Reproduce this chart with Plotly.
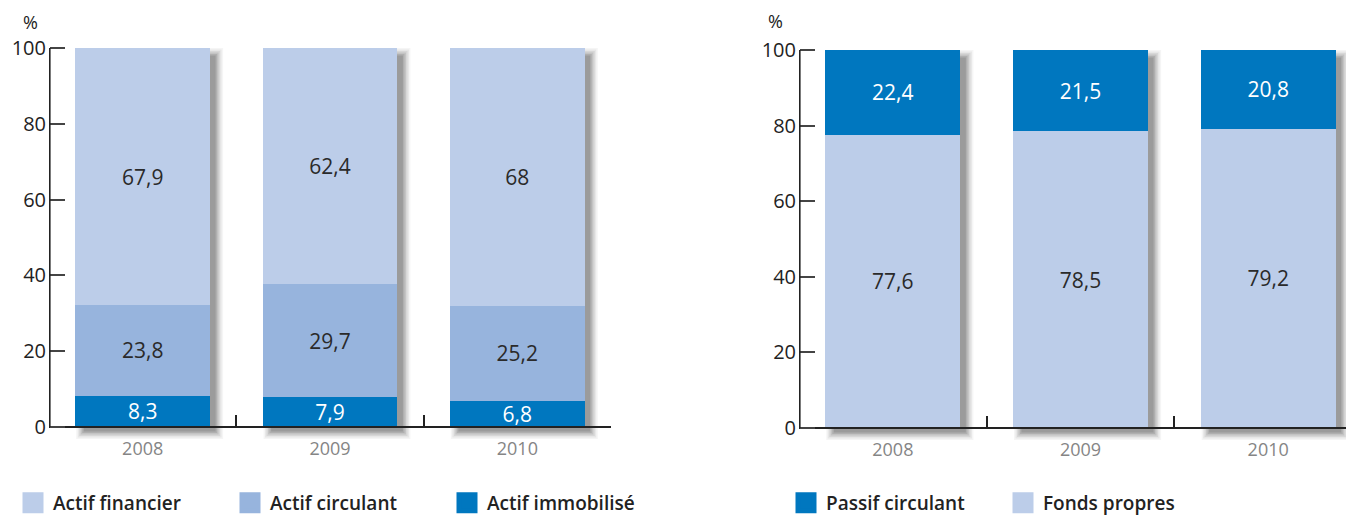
import plotly.graph_objects as go

# ---------------- data ----------------
years = ["2008", "2009", "2010"]
actif_immobilise = [8.3, 7.9, 6.8]
actif_circulant = [23.8, 29.7, 25.2]
actif_financier = [67.9, 62.4, 68]
passif_circulant = [22.4, 21.5, 20.8]
fonds_propres = [77.6, 78.5, 79.2]
y_ticks = [0, 20, 40, 60, 80, 100]

# ---------------- style ----------------
SCREEN_W, SCREEN_H = 1354, 516
OFF = 8                      # default page margin around the plot div
W, H = SCREEN_W - OFF, SCREEN_H - OFF
FONT = "Open Sans"
C_LIGHT = "#BCCDE9"
C_MID = "#97B4DD"
C_DARK = "#0077BF"
BAR_W = 0.72
Y_MIN, Y_MAX = -3.5, 101.5


def fx(sx):
    return (sx - OFF) / W


def fy(sy):
    return 1 - (sy - OFF) / H


# screen-pixel anchors of the two panels (layout only)
LEFT = dict(x0=49, x1=611, y0px=427, y100px=48, xr=[-0.5, 2.5])
RIGHT = dict(x0=799, x1=SCREEN_W, y0px=428, y100px=50, xr=[-0.5, 2.5 - 8 / 187.0])


def ydomain(p):
    ppu = (p["y0px"] - p["y100px"]) / 100.0
    bottom = p["y0px"] - Y_MIN * ppu
    top = p["y100px"] - (Y_MAX - 100) * ppu
    return [fy(bottom), fy(top)], ppu


fig = go.Figure()


def add_bar(vals, color, xa, ya, textcolor):
    fig.add_trace(go.Bar(
        x=years, y=vals, width=BAR_W, xaxis=xa, yaxis=ya,
        marker=dict(color=color, line=dict(width=0)),
        texttemplate="%{y}", textposition="inside", insidetextanchor="middle",
        textangle=0, constraintext="none",
        textfont=dict(family=FONT, size=21, color=textcolor),
        showlegend=False, hoverinfo="skip"))


def add_legend(name, color, xa, ya, legend):
    fig.add_trace(go.Scatter(
        x=[None], y=[None], mode="markers", name=name, xaxis=xa, yaxis=ya,
        legend=legend, showlegend=True, hoverinfo="skip",
        marker=dict(symbol="square", size=16, color=color,
                    line=dict(color=color, width=5))))


def add_shadows(totals, xa, ya, p, ppu):
    ppx = (p["x1"] - p["x0"]) / (p["xr"][1] - p["xr"][0])
    dx, dy = 7, 6
    layers = [(6, 0.05), (4.5, 0.07), (3, 0.09), (1.5, 0.12), (0, 0.14), (-1.5, 0.16)]
    for i, t in enumerate(totals):
        for e, op in layers:
            fig.add_shape(
                type="rect", xref=xa, yref=ya, layer="below",
                x0=i - BAR_W / 2 + (dx - e) / ppx, x1=i + BAR_W / 2 + (dx + e) / ppx,
                y0=(-dy - e) / ppu, y1=t + (-dy + e) / ppu,
                fillcolor="#3a3a3a", opacity=op, line=dict(width=0))
    # y axis line from 0 to 100
    fig.add_shape(type="line", xref=xa, yref=ya, layer="above",
                  x0=p["xr"][0] + 0.8 / ppx, x1=p["xr"][0] + 0.8 / ppx,
                  y0=0, y1=100, line=dict(color="#222", width=1.6))


# left panel
yd1, ppu1 = ydomain(LEFT)
add_bar(actif_immobilise, C_DARK, "x", "y", "white")
add_bar(actif_circulant, C_MID, "x", "y", "#2a2a2a")
add_bar(actif_financier, C_LIGHT, "x", "y", "#2a2a2a")
add_legend("Actif financier", C_LIGHT, "x", "y", "legend")
add_legend("Actif circulant", C_MID, "x", "y", "legend")
add_legend("Actif immobilisé", C_DARK, "x", "y", "legend")
totals1 = [a + b + c for a, b, c in zip(actif_immobilise, actif_circulant, actif_financier)]
add_shadows(totals1, "x", "y", LEFT, ppu1)

# right panel
yd2, ppu2 = ydomain(RIGHT)
add_bar(fonds_propres, C_LIGHT, "x2", "y2", "#2a2a2a")
add_bar(passif_circulant, C_DARK, "x2", "y2", "white")
add_legend("Passif circulant", C_DARK, "x2", "y2", "legend2")
add_legend("Fonds propres", C_LIGHT, "x2", "y2", "legend2")
totals2 = [a + b for a, b in zip(fonds_propres, passif_circulant)]
add_shadows(totals2, "x2", "y2", RIGHT, ppu2)


def xaxis(p):
    return dict(
        type="category", domain=[fx(p["x0"]), min(1.0, fx(p["x1"]))], range=p["xr"],
        anchor="free", position=fy(p["y0px"]),
        showline=True, linecolor="#222", linewidth=2,
        ticks="inside", tickson="boundaries", ticklen=11, tickwidth=2, tickcolor="#222",
        tickfont=dict(family=FONT, size=18, color="#858585"),
        ticklabelstandoff=5, showgrid=False, zeroline=False, fixedrange=True)


def yaxis(p, dom):
    return dict(
        domain=dom, range=[Y_MIN, Y_MAX], anchor="free", position=fx(p["x0"]),
        tickvals=y_ticks, ticks="inside", ticklen=15, tickwidth=1.5, tickcolor="#444",
        tickfont=dict(family=FONT, size=20, color="#222"), ticklabelstandoff=3,
        showline=False, showgrid=False, zeroline=False, fixedrange=True)


legend_font = dict(family=FONT, size=19, color="#222", weight=600)
fig.update_layout(
    width=W, height=H, autosize=False,
    margin=dict(l=0, r=0, t=0, b=0, autoexpand=False),
    paper_bgcolor="white", plot_bgcolor="rgba(0,0,0,0)",
    separators=", ",
    barmode="stack",
    font=dict(family=FONT),
    xaxis=xaxis(LEFT), yaxis=yaxis(LEFT, yd1),
    xaxis2=xaxis(RIGHT), yaxis2=yaxis(RIGHT, yd2),
    legend=dict(orientation="h", x=fx(13), xanchor="left", y=fy(503), yanchor="middle",
                font=legend_font, entrywidth=172, entrywidthmode="pixels",
                traceorder="normal", itemsizing="trace", bgcolor="rgba(0,0,0,0)"),
    legend2=dict(orientation="h", x=fx(786), xanchor="left", y=fy(503), yanchor="middle",
                 font=legend_font, entrywidth=172, entrywidthmode="pixels",
                 traceorder="normal", itemsizing="trace", bgcolor="rgba(0,0,0,0)"),
    annotations=[
        dict(text="%", x=fx(30), y=fy(22), xref="paper", yref="paper",
             xanchor="center", yanchor="middle", borderpad=0,
             showarrow=False, font=dict(family=FONT, size=18, color="#222")),
        dict(text="%", x=fx(775), y=fy(21), xref="paper", yref="paper",
             xanchor="center", yanchor="middle", borderpad=0,
             showarrow=False, font=dict(family=FONT, size=18, color="#222")),
    ],
)

fig.write_html("out.html")
